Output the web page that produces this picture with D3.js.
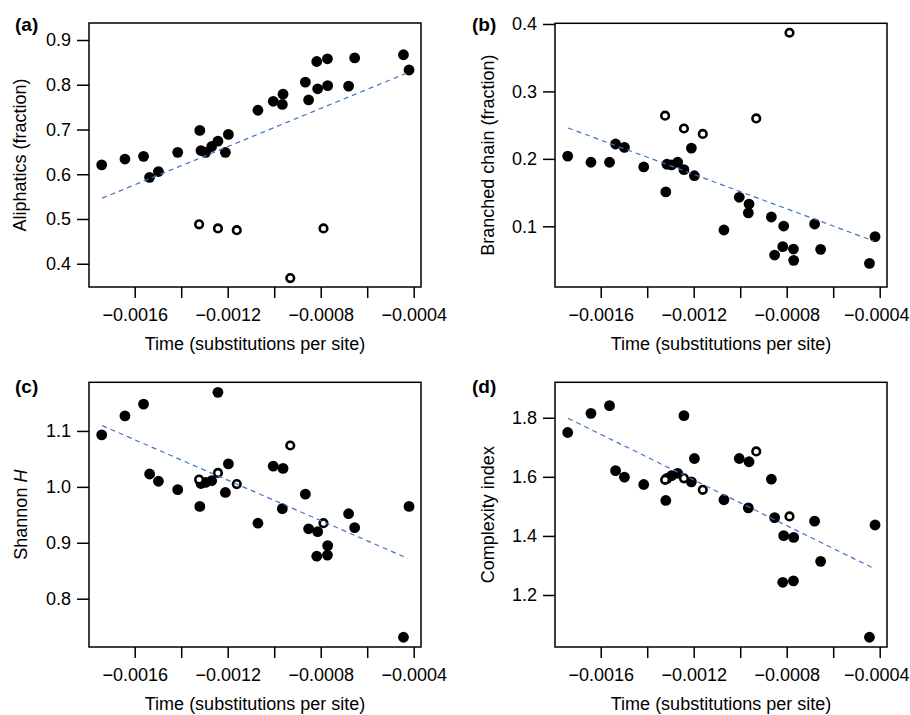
<!DOCTYPE html>
<html>
<head>
<meta charset="utf-8">
<script src="https://cdn.jsdelivr.net/npm/d3@7"></script>
<style>
  html, body { margin: 0; padding: 0; background: #fff; }
  svg { display: block; }
  text { font-family: "Liberation Sans", Arial, Helvetica, sans-serif; fill: #000; }
</style>
</head>
<body>
<svg id="chart" width="910" height="715"></svg>
<script>
// ---------- DATA ----------
// shared time values (substitutions per site) for filled points
const timeFilled = [-0.001742, -0.001642, -0.001562, -0.001536, -0.001498, -0.001415,
  -0.001320, -0.001315, -0.001295, -0.001269, -0.001242, -0.001210, -0.001197,
  -0.001070, -0.001004, -0.000962, -0.000965, -0.000866, -0.000852, -0.000817,
  -0.000813, -0.000771, -0.000770, -0.000680, -0.000654, -0.000444, -0.000420];
// time values for open (excluded) points
const timeOpen = [-0.001323, -0.001242, -0.001161, -0.000931, -0.000788];

// (a) Aliphatics (fraction)
const aliphaticsFilled = [0.621, 0.634, 0.640, 0.593, 0.606, 0.649, 0.698, 0.653, 0.649,
  0.662, 0.674, 0.649, 0.689, 0.743, 0.763, 0.779, 0.756, 0.806, 0.766, 0.852, 0.791,
  0.858, 0.798, 0.797, 0.860, 0.867, 0.833];
const aliphaticsOpen = [0.488, 0.479, 0.475, 0.368, 0.479];

// (b) Branched chain (fraction)
const branchedFilled = [0.204, 0.195, 0.195, 0.222, 0.217, 0.188, 0.151, 0.192, 0.191,
  0.195, 0.184, 0.216, 0.175, 0.0945, 0.143, 0.133, 0.120, 0.1138, 0.0574, 0.0698, 0.1004,
  0.0663, 0.0495, 0.1034, 0.0658, 0.045, 0.0846];
const branchedOpen = [0.264, 0.245, 0.237, 0.260, 0.387];

// (c) Shannon H
const shannonFilled = [1.093, 1.127, 1.148, 1.023, 1.010, 0.995, 0.965, 1.006, 1.008,
  1.011, 1.169, 0.990, 1.041, 0.935, 1.037, 1.033, 0.961, 0.987, 0.925, 0.876, 0.920,
  0.878, 0.895, 0.952, 0.927, 0.731, 0.965];
const shannonOpen = [1.013, 1.025, 1.005, 1.074, 0.935];

// (d) Complexity index
const complexityFilled = [1.750, 1.815, 1.841, 1.621, 1.599, 1.574, 1.520, 1.595, 1.604,
  1.612, 1.807, 1.583, 1.662, 1.5225, 1.662, 1.651, 1.495, 1.592, 1.462, 1.243, 1.401,
  1.248, 1.395, 1.450, 1.314, 1.057, 1.437];
const complexityOpen = [1.590, 1.595, 1.556, 1.686, 1.466];

// fitted regression lines (endpoints)
const fitTime = [-0.00174, -0.000425];
const fitAliphatics = [0.5465, 0.827];
const fitBranched = [0.2458, 0.0782];
const fitShannon = [1.1095, 0.872];
const fitComplexity = [1.798, 1.290];

// ticks
const xTicks = [-0.0016, -0.0014, -0.0012, -0.0010, -0.0008, -0.0006, -0.0004];
const xTickLabels = ["\u22120.0016", "", "\u22120.0012", "", "\u22120.0008", "", "\u22120.0004"];
const yTicksA = [0.4, 0.5, 0.6, 0.7, 0.8, 0.9];
const yTicksB = [0.1, 0.2, 0.3, 0.4];
const yTicksC = [0.8, 0.9, 1.0, 1.1];
const yTicksD = [1.2, 1.4, 1.6, 1.8];

// ---------- LAYOUT ----------
const svg = d3.select("#chart");
const xDomain = [-0.0017966, -0.0003686];
const fontSize = 18;

const panels = [
  { tag: "(a)", left: 89, top: 23, bottom: 287, yDomain: [0.348, 0.938], yTicks: yTicksA,
    filled: aliphaticsFilled, open: aliphaticsOpen, fit: fitAliphatics,
    title: [{t: "Aliphatics (fraction)"}], tagX: 15, tagY: 31, titleX: 26 },
  { tag: "(b)", left: 555, top: 23.3, bottom: 287, yDomain: [0.010, 0.401], yTicks: yTicksB,
    filled: branchedFilled, open: branchedOpen, fit: fitBranched,
    title: [{t: "Branched chain (fraction)"}], tagX: 472, tagY: 31, titleX: 494 },
  { tag: "(c)", left: 89, top: 382.3, bottom: 647, yDomain: [0.7136, 1.187], yTicks: yTicksC,
    filled: shannonFilled, open: shannonOpen, fit: fitShannon,
    title: [{t: "Shannon "}, {t: "H", italic: true}], tagX: 15, tagY: 392.5, titleX: 26.5 },
  { tag: "(d)", left: 555, top: 382.3, bottom: 647, yDomain: [1.024, 1.92], yTicks: yTicksD,
    filled: complexityFilled, open: complexityOpen, fit: fitComplexity,
    title: [{t: "Complexity index"}], tagX: 472, tagY: 392.5, titleX: 494 }
];
const pw = 332;

panels.forEach(p => {
  const bottom = p.bottom;
  const x = d3.scaleLinear().domain(xDomain).range([p.left, p.left + pw]);
  const y = d3.scaleLinear().domain(p.yDomain).range([bottom, p.top]);
  const g = svg.append("g");

  // x axis
  const xa = g.append("g").attr("transform", `translate(0,${bottom})`)
    .call(d3.axisBottom(x).tickValues(xTicks).tickSize(11).tickPadding(10)
      .tickFormat((d, i) => xTickLabels[i]));
  xa.select(".domain").remove();
  xa.selectAll(".tick line").attr("stroke", "#000").attr("stroke-width", 1.5);
  xa.selectAll(".tick text").attr("font-size", fontSize).attr("fill", "#000")
    .style("font-family", '"Liberation Sans", Arial, sans-serif');
  // keep the rightmost label inside the page edge
  if (p.left > 400) {
    xa.selectAll(".tick text").filter((d, i) => i === xTicks.length - 1).attr("dx", -3.5);
  }

  // y axis
  const ya = g.append("g").attr("transform", `translate(${p.left},0)`)
    .call(d3.axisLeft(y).tickValues(p.yTicks).tickSize(12).tickPadding(6)
      .tickFormat(d3.format(".1f")));
  ya.select(".domain").remove();
  ya.selectAll(".tick line").attr("stroke", "#000").attr("stroke-width", 1.5);
  ya.selectAll(".tick text").attr("font-size", fontSize).attr("fill", "#000")
    .style("font-family", '"Liberation Sans", Arial, sans-serif');

  // box
  g.append("rect").attr("x", p.left).attr("y", p.top)
    .attr("width", pw).attr("height", bottom - p.top)
    .attr("fill", "none").attr("stroke", "#000").attr("stroke-width", 1.5);

  // filled points
  g.append("g").selectAll("circle").data(p.filled).join("circle")
    .attr("cx", (d, i) => x(timeFilled[i])).attr("cy", d => y(d))
    .attr("r", 5.4).attr("fill", "#000");

  // open points
  g.append("g").selectAll("circle").data(p.open).join("circle")
    .attr("cx", (d, i) => x(timeOpen[i])).attr("cy", d => y(d))
    .attr("r", 3.8).attr("fill", "#fff").attr("stroke", "#000").attr("stroke-width", 2.6);

  // regression line
  g.append("line")
    .attr("x1", x(fitTime[0])).attr("y1", y(p.fit[0]))
    .attr("x2", x(fitTime[1])).attr("y2", y(p.fit[1]))
    .attr("stroke", "#4472C4").attr("stroke-width", 1.2)
    .attr("stroke-dasharray", "5,4");

  // panel tag
  g.append("text").attr("x", p.tagX).attr("y", p.tagY)
    .attr("font-size", 19).attr("font-weight", "bold").text(p.tag);

  // x title
  g.append("text").attr("x", p.left + pw / 2).attr("y", bottom + 62.5)
    .attr("text-anchor", "middle").attr("font-size", fontSize)
    .text("Time (substitutions per site)");

  // y title
  const yt = g.append("text")
    .attr("transform", `translate(${p.titleX},${(p.top + bottom) / 2}) rotate(-90)`)
    .attr("text-anchor", "middle").attr("font-size", fontSize);
  p.title.forEach(s => {
    yt.append("tspan").attr("font-style", s.italic ? "italic" : "normal").text(s.t);
  });
});
</script>
</body>
</html>
